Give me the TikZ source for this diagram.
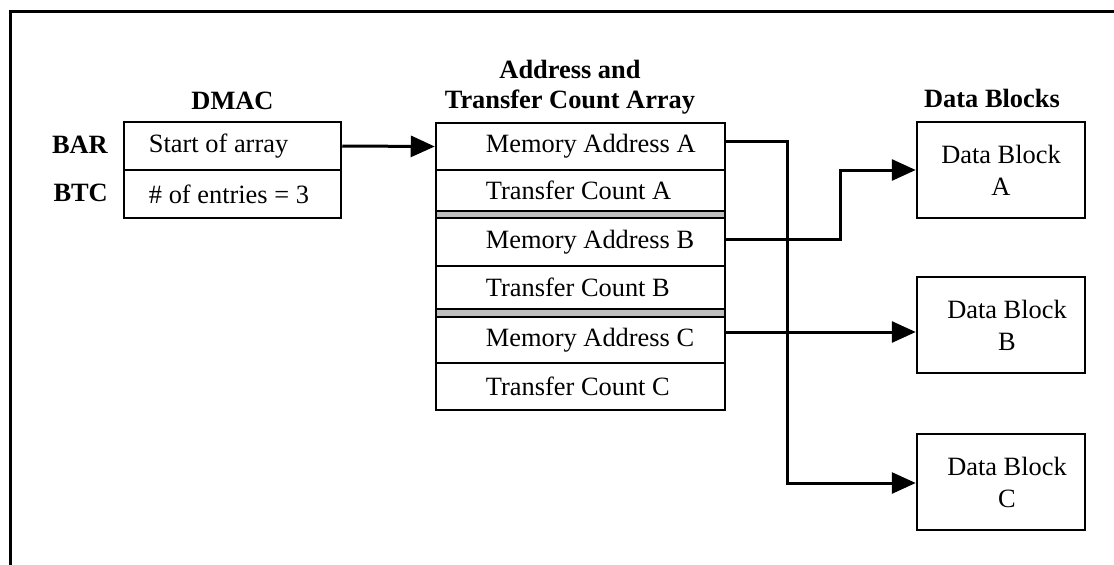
\documentclass[tikz,border=0pt]{standalone}
\usepackage{fontspec}
\setmainfont{Liberation Serif}
\usetikzlibrary{arrows.meta,calc}
\begin{document}
\begin{tikzpicture}[x=1pt,y=-1pt,
  txt/.style={font=\fontsize{26.4}{32}\selectfont, inner sep=0pt},
  ttl/.style={font=\fontsize{26.4}{30}\selectfont\bfseries, inner sep=0pt, align=center},
  arrcell/.style={draw=black, line width=2.5pt, inner sep=0pt, minimum width=289pt},
  dmacell/.style={draw=black, line width=2.5pt, inner sep=0pt, minimum width=217pt, minimum height=48pt},
  gapcell/.style={arrcell, fill=gray!50},
  blockbox/.style={draw=black, line width=2.5pt, inner sep=0pt, minimum width=168pt, minimum height=96pt, align=center, font=\fontsize{26.4}{32}\selectfont},
  conn/.style={line width=3pt, -{Triangle[length=24pt,width=21pt]}},
  wire/.style={line width=3pt}
]
\useasboundingbox (0,0) rectangle (1114,565);
% frame
\draw[line width=3pt] (1114,11) -- (10.5,11) -- (10.5,565);

% titles
\node[ttl, anchor=base] (tdmac) at (232.5,109) {DMAC};
\node[ttl, anchor=south] (tarr) at (570,114.7) {Address and\\Transfer Count Array};
\node[ttl, anchor=base] (tblk) at (992,107) {Data Blocks};

% DMAC registers
\node[dmacell] (bar) at (232.5,146) {};
\node[dmacell] (btc) at (232.5,194) {};
\node[txt, anchor=west] (tbar) at ($(bar.west)+(26,0)$) {Start of array};
\node[txt, anchor=west] (tbtc) at ($(btc.west)+(26,0)$) {\# of entries = 3};
\node[txt, font=\fontsize{26.4}{32}\selectfont\bfseries, anchor=base east] (lbar) at (108,153) {BAR};
\node[txt, font=\fontsize{26.4}{32}\selectfont\bfseries, anchor=base east] (lbtc) at (108,201) {BTC};

% array
\node[arrcell, minimum height=47pt] (maA) at (580.5,146.5) {};
\node[arrcell, minimum height=41pt] (tcA) at (580.5,190.5) {};
\node[gapcell, minimum height=7pt] (g1) at (580.5,214.5) {};
\node[arrcell, minimum height=48pt] (maB) at (580.5,242) {};
\node[arrcell, minimum height=43pt] (tcB) at (580.5,287.5) {};
\node[gapcell, minimum height=8pt] (g2) at (580.5,313) {};
\node[arrcell, minimum height=46pt] (maC) at (580.5,340) {};
\node[arrcell, minimum height=47pt] (tcC) at (580.5,386.5) {};

\node[txt, anchor=west] at ($(maA.west)+(51,0)$) {Memory Address A};
\node[txt, anchor=west] at ($(tcA.west)+(51,0)$) {Transfer Count A};
\node[txt, anchor=west] at ($(maB.west)+(51,0)$) {Memory Address B};
\node[txt, anchor=west] at ($(tcB.west)+(51,0)$) {Transfer Count B};
\node[txt, anchor=west] at ($(maC.west)+(51,0)$) {Memory Address C};
\node[txt, anchor=west] at ($(tcC.west)+(51,0)$) {Transfer Count C};

% data blocks
\node[blockbox] (dbA) at (1001,170) {Data Block\\A};
\node[blockbox] (dbB) at (1001,325) {\hspace*{12pt}Data Block\\\hspace*{12pt}B};
\node[blockbox] (dbC) at (1001,482) {\hspace*{12pt}Data Block\\\hspace*{12pt}C};

% connectors
\draw[conn] (bar.east) -- (maA.west);
\draw[conn] ($(maA.east)+(0,-5.5)$) -| ($(dbC.west)+(-128,1)$) -- ($(dbC.west)+(0,1)$);
\draw[conn] ($(maB.east)+(0,-3)$) -| ($(dbA.west)+(-75,0)$) -- (dbA.west);
\draw[conn] ($(maC.east)+(0,-8)$) -- ($(dbB.west)+(0,7)$);
\end{tikzpicture}
\end{document}
